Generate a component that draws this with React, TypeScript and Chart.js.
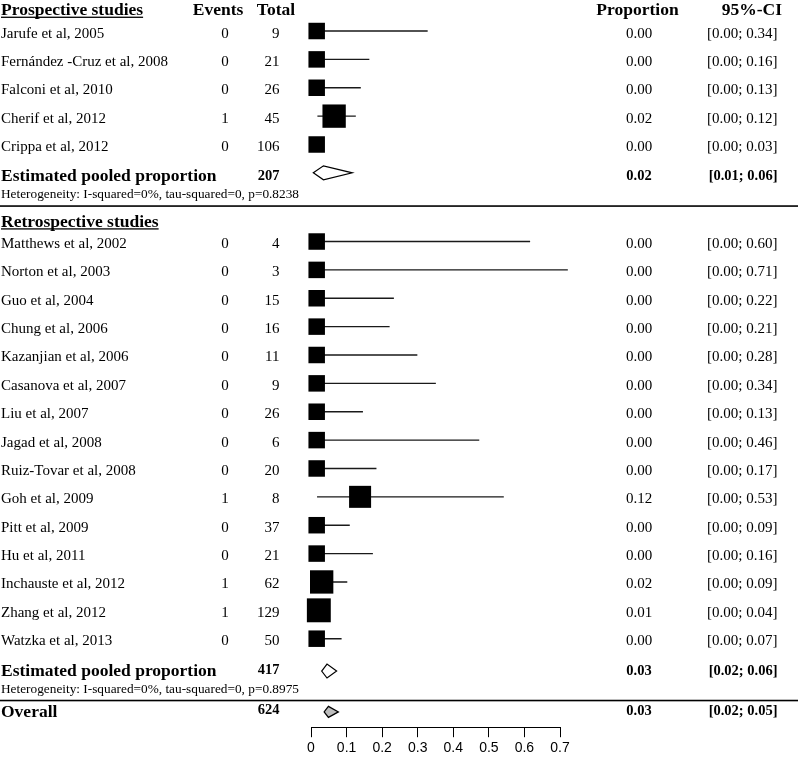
import React, { useEffect, useRef } from "react";
import { Chart, registerables } from "chart.js";

Chart.register(...registerables);

// ---------------- data ----------------
const prospNames = [
  "Jarufe et al, 2005",
  "Fernández -Cruz et al, 2008",
  "Falconi et al, 2010",
  "Cherif et al, 2012",
  "Crippa et al, 2012",
];
const prospEvents = [0, 0, 0, 1, 0];
const prospTotals = [9, 21, 26, 45, 106];
const prospProp = [0.0, 0.0, 0.0, 0.02, 0.0];
const prospCiLow = [0.0, 0.0, 0.0, 0.0, 0.0];
const prospCiHigh = [0.34, 0.16, 0.13, 0.12, 0.03];
// plotted (model) estimate / interval
const prospPlotEst = [0.016, 0.016, 0.016, 0.065, 0.016];
const prospPlotLow = [0.0, 0.0, 0.0, 0.018, 0.0];
const prospPlotHigh = [0.328, 0.164, 0.14, 0.126, 0.03];
const prospBoxWeight = [1, 1, 1, 2, 1];

const retroNames = [
  "Matthews et al, 2002",
  "Norton et al, 2003",
  "Guo et al, 2004",
  "Chung et al, 2006",
  "Kazanjian et al, 2006",
  "Casanova et al, 2007",
  "Liu et al, 2007",
  "Jagad et al, 2008",
  "Ruiz-Tovar et al, 2008",
  "Goh et al, 2009",
  "Pitt et al, 2009",
  "Hu et al, 2011",
  "Inchauste et al, 2012",
  "Zhang et al, 2012",
  "Watzka et al, 2013",
];
const retroEvents = [0, 0, 0, 0, 0, 0, 0, 0, 0, 1, 0, 0, 1, 1, 0];
const retroTotals = [4, 3, 15, 16, 11, 9, 26, 6, 20, 8, 37, 21, 62, 129, 50];
const retroProp = [0, 0, 0, 0, 0, 0, 0, 0, 0, 0.12, 0, 0, 0.02, 0.01, 0];
const retroCiLow = [0, 0, 0, 0, 0, 0, 0, 0, 0, 0, 0, 0, 0, 0, 0];
const retroCiHigh = [0.6, 0.71, 0.22, 0.21, 0.28, 0.34, 0.13, 0.46, 0.17, 0.53, 0.09, 0.16, 0.09, 0.04, 0.07];
const retroPlotEst = [0.016, 0.016, 0.016, 0.016, 0.016, 0.016, 0.016, 0.016, 0.016, 0.138, 0.016, 0.016, 0.03, 0.022, 0.016];
const retroPlotLow = [0, 0, 0, 0, 0, 0, 0, 0, 0, 0.017, 0, 0, 0, 0, 0];
const retroPlotHigh = [0.616, 0.722, 0.233, 0.221, 0.299, 0.351, 0.146, 0.473, 0.184, 0.542, 0.109, 0.174, 0.102, 0.05, 0.086];
const retroBoxWeight = [1, 1, 1, 1, 1, 1, 1, 1, 1, 1.78, 1, 1, 2, 2.1, 1];

const pooledTotals = [207, 417];
const pooledProp = [0.02, 0.03];
const pooledCiLow = [0.01, 0.02];
const pooledCiHigh = [0.06, 0.06];
const pooledPlotEst = [0.035, 0.045];
const pooledPlotLow = [0.0065, 0.03];
const pooledPlotHigh = [0.116, 0.072];
const heterogeneityTexts = [
  "Heterogeneity: I-squared=0%, tau-squared=0, p=0.8238",
  "Heterogeneity: I-squared=0%, tau-squared=0, p=0.8975",
];

const overallTotal = 624;
const overallProp = 0.03;
const overallCiLow = 0.02;
const overallCiHigh = 0.05;
const overallPlotEst = 0.049;
const overallPlotLow = 0.037;
const overallPlotHigh = 0.077;

const xTickValues = [0, 0.1, 0.2, 0.3, 0.4, 0.5, 0.6, 0.7];

// ---------------- layout ----------------
const W = 798;
const H = 760;
const PLOT_LEFT = 311;
const PLOT_RIGHT = 560;
const Y_MIN = -0.0935;
const Y_MAX = 25.54;
const HEADER_ROW = 0.26;
const PROSP_START = 1;
const POOLED_ROWS = [6, 23.56];
const POOLED_LABEL_DY = [8, 4.8];
const POOLED_TOTAL_DY = [7.5, 2.6];
const POOLED_NUM_DY = [7, 3.6];
const HET_ROWS = [6.68, 24.14];
const SEP_ROWS = [7.17, 24.6];
const RETRO_HEADER_ROW = 7.72;
const RETRO_START = 8.42;
const OVERALL_ROW = 25.0;
const BASE_BOX = 16.5;

const COL = {
  name: 1,
  events: 225,
  eventsHead: 218,
  totalRight: 279.5,
  totalHead: 276,
  prop: 639,
  propHead: 637.5,
  ciRight: 777.5,
  ciHeadRight: 782,
};

const SERIF = '"Liberation Serif", "Times New Roman", serif';
const F_REG = `15px ${SERIF}`;
const F_HEAD = `bold 17.5px ${SERIF}`;
const F_BOLDNUM = `bold 14.5px ${SERIF}`;
const F_HET = `13.3px ${SERIF}`;

const prospRows = prospNames.map((_, i) => PROSP_START + i);
const retroRows = retroNames.map((_, i) => RETRO_START + i);
const allRows = [...prospRows, ...retroRows];
const allEst = [...prospPlotEst, ...retroPlotEst];
const allLow = [...prospPlotLow, ...retroPlotLow];
const allHigh = [...prospPlotHigh, ...retroPlotHigh];
const allWeight = [...prospBoxWeight, ...retroBoxWeight];

const fmt = (v: number) => v.toFixed(2);
const ciText = (lo: number, hi: number) => `[${fmt(lo)}; ${fmt(hi)}]`;

const forestText = {
  id: "forestText",
  afterDraw(chart: any) {
    const ctx: CanvasRenderingContext2D = chart.ctx;
    const ys = chart.scales.y;
    const xs = chart.scales.x;
    const py = (r: number) => ys.getPixelForValue(r);
    const px = (v: number) => xs.getPixelForValue(v);
    ctx.save();
    ctx.fillStyle = "#000";
    ctx.strokeStyle = "#000";
    const text = (s: string, x: number, y: number, font: string, align: CanvasTextAlign = "left") => {
      ctx.font = font;
      ctx.textAlign = align;
      ctx.textBaseline = "alphabetic";
      ctx.fillText(s, x, y);
      return ctx.measureText(s).width;
    };
    const underlined = (s: string, x: number, y: number) => {
      const w = text(s, x, y, F_HEAD, "left");
      ctx.fillRect(x, y + 1.6, w, 1.3);
    };

    // column headers
    const hb = py(HEADER_ROW) + 5;
    underlined("Prospective studies", COL.name, hb);
    text("Events", COL.eventsHead, hb, F_HEAD, "center");
    text("Total", COL.totalHead, hb, F_HEAD, "center");
    text("Proportion", COL.propHead, hb, F_HEAD, "center");
    text("95%-CI", COL.ciHeadRight, hb, F_HEAD, "right");

    underlined("Retrospective studies", COL.name, py(RETRO_HEADER_ROW) + 5);

    const studyRow = (name: string, ev: number, tot: number, p: number, lo: number, hi: number, row: number) => {
      const b = py(row) + 6.5;
      text(name, COL.name, b, F_REG);
      text(String(ev), COL.events, b, F_REG, "center");
      text(String(tot), COL.totalRight, b, F_REG, "right");
      text(fmt(p), COL.prop, b, F_REG, "center");
      text(ciText(lo, hi), COL.ciRight, b, F_REG, "right");
    };
    prospNames.forEach((n, i) =>
      studyRow(n, prospEvents[i], prospTotals[i], prospProp[i], prospCiLow[i], prospCiHigh[i], prospRows[i])
    );
    retroNames.forEach((n, i) =>
      studyRow(n, retroEvents[i], retroTotals[i], retroProp[i], retroCiLow[i], retroCiHigh[i], retroRows[i])
    );

    const diamond = (lo: number, est: number, hi: number, row: number, half: number, fill: string) => {
      const y = py(row);
      ctx.beginPath();
      ctx.moveTo(px(lo), y);
      ctx.lineTo(px(est), y - half);
      ctx.lineTo(px(hi), y);
      ctx.lineTo(px(est), y + half);
      ctx.closePath();
      ctx.fillStyle = fill;
      ctx.fill();
      ctx.lineWidth = 1.2;
      ctx.strokeStyle = "#000";
      ctx.stroke();
      ctx.fillStyle = "#000";
    };

    // pooled rows
    POOLED_ROWS.forEach((row, i) => {
      const b = py(row);
      text("Estimated pooled proportion", COL.name, b + POOLED_LABEL_DY[i], F_HEAD);
      text(String(pooledTotals[i]), COL.totalRight, b + POOLED_TOTAL_DY[i], F_BOLDNUM, "right");
      text(fmt(pooledProp[i]), COL.prop, b + POOLED_NUM_DY[i], F_BOLDNUM, "center");
      text(ciText(pooledCiLow[i], pooledCiHigh[i]), COL.ciRight, b + POOLED_NUM_DY[i], F_BOLDNUM, "right");
      diamond(pooledPlotLow[i], pooledPlotEst[i], pooledPlotHigh[i], row, 7, "#fff");
      text(heterogeneityTexts[i], COL.name, py(HET_ROWS[i]) + 5.5, F_HET);
    });

    // separators
    SEP_ROWS.forEach((row) => {
      const y = py(row);
      ctx.fillRect(0, y - 0.8, W, 1.6);
    });

    // overall
    const ob = py(OVERALL_ROW);
    text("Overall", COL.name, ob + 5.5, F_HEAD);
    text(String(overallTotal), COL.totalRight, ob + 2.5, F_BOLDNUM, "right");
    text(fmt(overallProp), COL.prop, ob + 3.5, F_BOLDNUM, "center");
    text(ciText(overallCiLow, overallCiHigh), COL.ciRight, ob + 3.5, F_BOLDNUM, "right");
    diamond(overallPlotLow, overallPlotEst, overallPlotHigh, OVERALL_ROW, 5.5, "#bdbdbd");

    ctx.restore();
  },
};

export default function App() {
  const ref = useRef<HTMLCanvasElement | null>(null);

  useEffect(() => {
    document.body.style.margin = "0";
    document.body.style.overflow = "hidden";
    const canvas = ref.current;
    if (!canvas) return;

    const ciData: any[] = [];
    allRows.forEach((r, i) => {
      ciData.push({ x: allLow[i], y: r });
      ciData.push({ x: allHigh[i], y: r });
      ciData.push({ x: null, y: null });
    });
    const boxData = allRows.map((r, i) => ({ x: allEst[i], y: r }));
    const boxRadius = allWeight.map((w) => (BASE_BOX * Math.sqrt(w)) / Math.SQRT2);

    const chart = new Chart(canvas, {
      type: "scatter",
      data: {
        datasets: [
          {
            type: "scatter",
            data: boxData,
            pointStyle: "rect",
            pointRadius: boxRadius,
            pointBackgroundColor: "#000",
            pointBorderWidth: 0,
            borderWidth: 0,
            clip: false,
            order: 0,
          } as any,
          {
            type: "line",
            data: ciData,
            borderColor: "#1a1a1a",
            borderWidth: 1.4,
            pointRadius: 0,
            spanGaps: false,
            fill: false,
            clip: false,
            order: 1,
          } as any,
        ],
      },
      options: {
        responsive: false,
        animation: false,
        events: [],
        layout: {
          autoPadding: false,
          padding: { left: PLOT_LEFT, right: W - PLOT_RIGHT, top: 0, bottom: 0 },
        },
        plugins: { legend: { display: false }, tooltip: { enabled: false } },
        scales: {
          x: {
            type: "linear",
            min: 0,
            max: 0.7,
            afterBuildTicks: (s: any) => {
              s.ticks = xTickValues.map((v) => ({ value: v }));
            },
            grid: { drawOnChartArea: false, drawTicks: true, tickLength: 10, color: "#000", lineWidth: 1 },
            border: { display: true, color: "#000", width: 1 },
            ticks: {
              color: "#000",
              font: { family: '"Liberation Sans", Arial, sans-serif', size: 14 },
              padding: 3,
              maxRotation: 0,
              autoSkip: false,
              callback: (v: any) => String(v),
            },
          },
          y: { type: "linear", display: false, reverse: true, min: Y_MIN, max: Y_MAX },
        },
      } as any,
      plugins: [forestText as any],
    });
    return () => chart.destroy();
  }, []);

  return (
    <div style={{ width: W, height: H }}>
      <canvas ref={ref} width={W} height={H} style={{ display: "block" }} />
    </div>
  );
}
